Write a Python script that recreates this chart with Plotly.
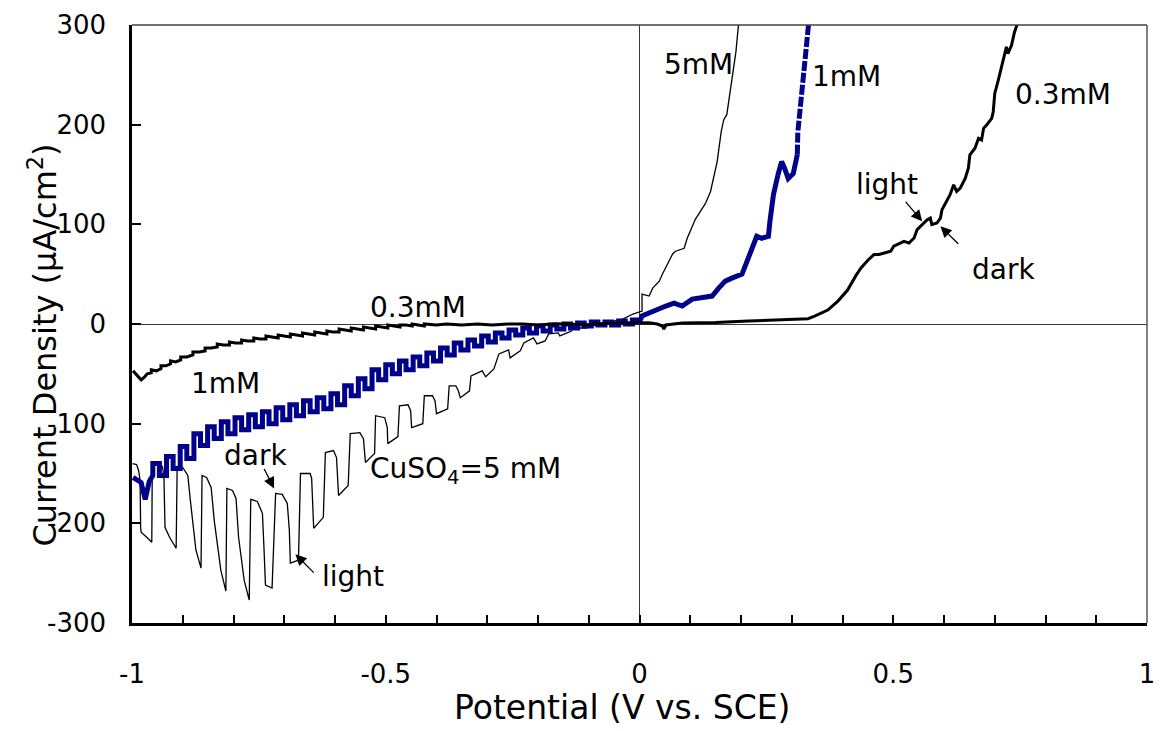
import plotly.graph_objects as go

FONT = "DejaVu Sans"

# ---------------- data (potential V vs SCE, current density uA/cm2) ----------------
# 0.3 mM CuSO4 (thick black)
E_03 = [-0.998, -0.990, -0.982, -0.975, -0.970, -0.962, -0.962, -0.952, -0.943, -0.943,
        -0.933, -0.924, -0.924, -0.914, -0.904, -0.904, -0.892, -0.880, -0.880, -0.868,
        -0.856, -0.856, -0.844, -0.832, -0.832, -0.820, -0.808, -0.808, -0.796, -0.784,
        -0.784, -0.772, -0.760, -0.760, -0.748, -0.736, -0.736, -0.724, -0.712, -0.712,
        -0.700, -0.688, -0.688, -0.676, -0.664, -0.664, -0.652, -0.640, -0.640, -0.628,
        -0.616, -0.616, -0.604, -0.592, -0.592, -0.580, -0.568, -0.568, -0.556, -0.544,
        -0.544, -0.532, -0.520, -0.520, -0.508, -0.496, -0.496, -0.484, -0.472, -0.472,
        -0.460, -0.448, -0.448, -0.436, -0.424, -0.424, -0.400, -0.380, -0.350, -0.320,
        -0.290, -0.260, -0.230, -0.200, -0.170, -0.140, -0.110, -0.080, -0.050, -0.020,
        0.000, 0.019, 0.035, 0.045, 0.048, 0.052, 0.084, 0.150, 0.215, 0.280,
        0.306, 0.332, 0.345, 0.371, 0.391, 0.410, 0.427, 0.436, 0.450, 0.462,
        0.472, 0.495, 0.501, 0.521, 0.531, 0.541, 0.547, 0.557, 0.567, 0.573,
        0.576, 0.586, 0.593, 0.596, 0.606, 0.612, 0.619, 0.625, 0.632, 0.642,
        0.648, 0.651, 0.661, 0.668, 0.674, 0.678, 0.684, 0.694, 0.697, 0.700,
        0.707, 0.713, 0.718, 0.723, 0.726, 0.733, 0.739, 0.744, 0.748]
I_03 = [-47, -51, -56, -53, -50, -49, -46, -47, -45, -42,
        -42, -40, -37, -38, -36, -33, -33, -31, -28, -28,
        -27, -24, -24, -23, -20, -21, -21, -18, -19, -19,
        -16, -17, -17, -14, -15, -15, -12, -13, -14, -11,
        -12, -13, -10, -11, -12, -9, -10, -11, -8, -9,
        -10, -7, -8, -8, -5, -6, -7, -4, -5, -6,
        -3, -4, -5, -2, -3, -4, -1, -2, -3, -1,
        -1, -2, 0, -1, -2, 0, -1, 0, -1, 0,
        -1, 0, 0, -1, 0, 0, -1, 0, 1, 1,
        1, 1.3, 0, -2, -5, -1, 1, 1.5, 3, 4.5,
        4.7, 5.3, 8, 14, 23, 34, 49, 56, 64, 69.7,
        69.7, 73, 78, 83, 81.3, 86.3, 94.7, 99.7, 104.7, 106.3,
        99.7, 101.3, 106.3, 114.7, 124.7, 129.7, 139.7, 133, 136.3, 146.3,
        156.3, 169.7, 176.3, 186.3, 184.7, 196.3, 199.7, 206.3, 213, 231.3,
        244.7, 256.3, 268, 278, 271.3, 279.7, 293, 300, 306]

# 1 mM CuSO4 (thick navy): start, chopped cathodic part, anodic part
E_1_start = [-0.998, -0.982, -0.974, -0.966, -0.959]
I_1_start = [-154, -159, -176, -158, -152]
E_1_off = [-0.959, -0.932, -0.905, -0.878, -0.851, -0.824, -0.797, -0.770, -0.743, -0.716,
           -0.689, -0.662, -0.635, -0.608, -0.581, -0.554, -0.527, -0.500, -0.473, -0.446,
           -0.419, -0.392, -0.365, -0.338, -0.311, -0.284, -0.257, -0.230, -0.203, -0.176,
           -0.149, -0.122, -0.095, -0.068, -0.041, -0.014]
E_1_on = [-0.946, -0.919, -0.892, -0.865, -0.838, -0.811, -0.784, -0.757, -0.730, -0.703,
          -0.676, -0.649, -0.622, -0.595, -0.568, -0.541, -0.514, -0.487, -0.460, -0.433,
          -0.406, -0.379, -0.352, -0.325, -0.298, -0.271, -0.244, -0.217, -0.190, -0.163,
          -0.136, -0.109, -0.082, -0.055, -0.028, -0.001]
I_1_dark = [-140, -133, -123, -110, -103, -98, -94, -91, -88, -84,
            -81, -77, -74, -70, -62, -55, -46, -41, -37, -33,
            -29, -24, -19, -16, -12, -9, -6, -4, -2, -1,
            0, 1, 2, 2, 3, 4]
I_1_light = [-152, -145, -135, -122, -115, -110, -106, -103, -100, -96,
             -92, -88, -85, -81, -72, -65, -56, -50, -46, -42,
             -37, -31, -26, -22, -18, -14, -11, -9, -7, -5,
             -4, -2, -1, -1, 0, 1]
E_1_an = [0.005, 0.026, 0.052, 0.068, 0.084, 0.104, 0.124, 0.143, 0.156, 0.169,
          0.182, 0.202, 0.212, 0.221, 0.231, 0.241, 0.254, 0.257, 0.264, 0.273,
          0.280, 0.286, 0.293, 0.303, 0.309, 0.311]
I_1_an = [8, 13, 18, 21, 18, 25, 26, 28, 36, 43,
          46, 50, 63, 76, 88, 86, 88, 103, 130, 150,
          163, 156, 146, 151, 163, 170]
E_1_top = [0.311, 0.312, 0.316, 0.322, 0.329, 0.334]
I_1_top = [170, 193, 213, 243, 276, 305]

# 5 mM CuSO4 (thin black), chopped light / dark
E_5 = [-0.999, -0.991, -0.987, -0.984, -0.983, -0.982, -0.971, -0.961, -0.960, -0.949,
       -0.940, -0.937, -0.935, -0.926, -0.913, -0.911, -0.900, -0.890, -0.885, -0.874,
       -0.864, -0.862, -0.853, -0.844, -0.838, -0.825, -0.815, -0.813, -0.802, -0.795,
       -0.790, -0.779, -0.769, -0.766, -0.753, -0.743, -0.740, -0.737, -0.724, -0.717,
       -0.704, -0.694, -0.690, -0.688, -0.672, -0.668, -0.649, -0.646, -0.642, -0.623,
       -0.619, -0.603, -0.597, -0.593, -0.574, -0.570, -0.551, -0.544, -0.540, -0.522,
       -0.520, -0.502, -0.497, -0.496, -0.476, -0.473, -0.456, -0.451, -0.449, -0.427,
       -0.424, -0.408, -0.403, -0.400, -0.378, -0.375, -0.362, -0.357, -0.353, -0.335,
       -0.332, -0.310, -0.303, -0.287, -0.277, -0.258, -0.255, -0.235, -0.228, -0.209,
       -0.202, -0.186, -0.179, -0.160, -0.157, -0.134, -0.131, -0.105, -0.085, -0.059,
       -0.033, -0.013, 0.000, 0.005, 0.005, 0.019, 0.026, 0.039, 0.045, 0.055,
       0.065, 0.071, 0.088, 0.094, 0.110, 0.120, 0.130, 0.140, 0.146, 0.153,
       0.161, 0.166, 0.172, 0.179, 0.185, 0.190, 0.195, 0.198]
I_5 = [-140, -141, -147, -157, -204, -209, -214, -219, -140, -140,
       -143, -154, -204, -214, -225, -143, -144, -152, -177, -227,
       -245, -152, -154, -164, -197, -247, -268, -165, -167, -175,
       -214, -257, -277, -176, -178, -190, -224, -262, -265, -170,
       -171, -180, -207, -240, -237, -150, -150, -155, -205, -194,
       -129, -127, -134, -172, -162, -110, -109, -115, -139, -130,
       -92, -94, -104, -120, -113, -82, -81, -87, -104, -100,
       -72, -72, -77, -90, -85, -62, -62, -67, -74, -67,
       -52, -47, -53, -45, -30, -26, -34, -27, -19, -14,
       -20, -17, -10, -9, -12, -7, -4, -4, -1, 2,
       5, 10, 12, 13, 30, 28, 36, 43, 50, 60,
       70, 73, 76, 86, 105, 113, 121, 133, 146, 163,
       193, 205, 210, 233, 253, 273, 300, 315]

# axis ticks
x_tick_vals = [-1, -0.5, 0, 0.5, 1]
x_tick_text = ["-1", "-0.5", "0", "0.5", "1"]
y_tick_vals = [-300, -200, -100, 0, 100, 200, 300]
y_tick_text = ["-300", "-200", "-100", "0", "100", "200", "300"]

# text labels: (text, E, I)
labels = [
    ("0.3mM", -0.437, 17),
    ("1mM", -0.816, -60),
    ("dark", -0.756, -132),
    ("CuSO<sub>4</sub>=5 mM", -0.343, -147),
    ("light", -0.564, -253),
    ("5mM", 0.116, 260),
    ("1mM", 0.408, 248),
    ("0.3mM", 0.834, 230),
    ("light", 0.488, 140),
    ("dark", 0.717, 55),
]
# arrows: (tip E, tip I, tail E, tail I)
arrows = [
    (-0.720, -165, -0.741, -144),
    (-0.678, -231, -0.639, -251),
    (0.557, 103, 0.522, 124),
    (0.593, 98, 0.631, 79),
]

# ---------------- build 1 mM chopped path ----------------
x1 = list(E_1_start)
y1 = list(I_1_start)
for k in range(len(E_1_off)):
    if k > 0:
        x1.append(E_1_off[k]); y1.append(I_1_light[k - 1])
    x1 += [E_1_off[k], E_1_on[k], E_1_on[k]]
    y1 += [I_1_dark[k], I_1_dark[k], I_1_light[k]]
x1 += E_1_an
y1 += I_1_an

NAVY = "#00008b"
fig = go.Figure()
fig.add_trace(go.Scatter(x=E_5, y=I_5, mode="lines",
                         line=dict(color="black", width=1.3), hoverinfo="skip"))
fig.add_trace(go.Scatter(x=x1, y=y1, mode="lines",
                         line=dict(color=NAVY, width=5), hoverinfo="skip"))
fig.add_trace(go.Scatter(x=E_1_top, y=I_1_top, mode="lines",
                         line=dict(color=NAVY, width=5, dash="10px,2px"), hoverinfo="skip"))
fig.add_trace(go.Scatter(x=E_03, y=I_03, mode="lines",
                         line=dict(color="black", width=3), hoverinfo="skip"))

for txt, ex, iy in labels:
    fig.add_annotation(x=ex, y=iy, text=txt, showarrow=False, xanchor="center",
                       yanchor="middle", font=dict(family=FONT, size=28, color="black"))
for tx, ty, ax, ay in arrows:
    fig.add_annotation(x=tx, y=ty, ax=ax, ay=ay, xref="x", yref="y", axref="x", ayref="y",
                       text="", showarrow=True, arrowhead=2, arrowsize=1.7, arrowwidth=1.3,
                       arrowcolor="black")

# axis titles
fig.add_annotation(x=0.483, y=-0.142, xref="paper", yref="paper", showarrow=False,
                   text="Potential (V vs. SCE)", xanchor="center", yanchor="middle",
                   font=dict(family=FONT, size=33, color="black"))
fig.add_annotation(x=-0.088, y=0.465, xref="paper", yref="paper", showarrow=False,
                   text="Current Density (μA/cm<sup>2</sup>)", textangle=-90,
                   xanchor="center", yanchor="middle",
                   font=dict(family=FONT, size=32, color="black"))

# top / right frame
fig.add_shape(type="line", xref="paper", yref="paper", x0=0, x1=1, y0=1, y1=1,
              line=dict(color="#404040", width=1.3))
fig.add_shape(type="line", xref="paper", yref="paper", x0=1, x1=1, y0=0, y1=1,
              line=dict(color="#404040", width=1.3))

fig.update_layout(
    width=1165, height=731,
    margin=dict(l=132, r=10, t=23, b=108),
    paper_bgcolor="white", plot_bgcolor="white",
    showlegend=False,
    font=dict(family=FONT, size=26, color="black"),
)
fig.update_xaxes(
    range=[-1, 1], tickmode="array", tickvals=x_tick_vals, ticktext=x_tick_text,
    ticks="inside", ticklen=8, tickwidth=1.5, tickcolor="black",
    showline=True, linecolor="black", linewidth=2.5, showgrid=False,
    zeroline=True, zerolinecolor="#3a3a3a", zerolinewidth=1.3,
    minor=dict(tickmode="linear", tick0=-1, dtick=0.1, ticks="inside", ticklen=8,
               tickwidth=1.5, tickcolor="black", showgrid=False),
    ticklabelstandoff=26, tickfont=dict(family=FONT, size=26, color="black"),
)
fig.update_yaxes(
    range=[-300, 300], tickmode="array", tickvals=y_tick_vals, ticktext=y_tick_text,
    ticks="inside", ticklen=9, tickwidth=1.5, tickcolor="black",
    showline=True, linecolor="black", linewidth=2.5, showgrid=False,
    zeroline=True, zerolinecolor="#3a3a3a", zerolinewidth=1.3,
    ticklabelstandoff=18, tickfont=dict(family=FONT, size=26, color="black"),
)

fig.write_html("out.html")
